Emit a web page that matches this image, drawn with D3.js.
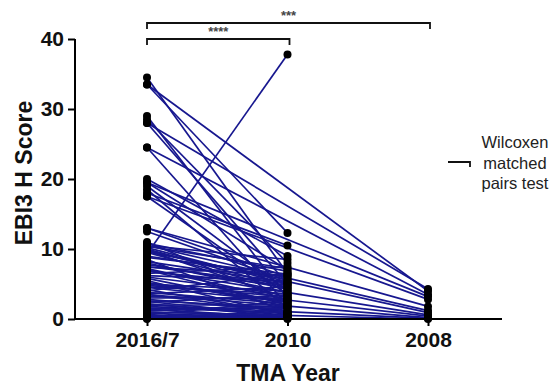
<!DOCTYPE html>
<html>
<head>
<meta charset="utf-8">
<script src="https://cdn.jsdelivr.net/npm/d3@7"></script>
<style>
  body { margin: 0; background: #fff; }
  text { font-family: "Liberation Sans", Arial, sans-serif; }
</style>
</head>
<body>
<div id="chart"></div>
<script>
const groups = ['2016/7', '2010', '2008'];
const yTicks = [0, 10, 20, 30, 40];

// paired samples 2016/7 -> 2010
const pre2010 = [34.5, 33.5, 29.0, 28.5, 28.0, 24.5, 20.0, 19.5, 19.0, 18.5, 18.0, 17.5,
  13.0, 12.5, 11.0, 10.8, 10.5, 10.4, 10.2, 10.0, 9.8, 9.6, 9.5, 9.3, 9.0, 8.8, 8.5, 8.2,
  8.0, 7.8, 7.5, 7.4, 7.2, 7.0, 6.8, 6.5, 6.2, 6.0, 5.8, 5.5, 5.2, 5.0, 4.8, 4.6, 4.5,
  4.2, 4.0, 3.8, 3.6, 3.5, 3.2, 3.0, 2.8, 2.6, 2.5, 2.4, 2.2, 2.0, 1.8, 1.6, 1.5, 1.4,
  1.2, 1.0, 0.8, 0.6, 0.5, 0.4, 0.3, 0.2, 0.1, 0.0];
const post2010 = [6.5, 12.3, 3.0, 8.0, 5.0, 2.0, 9.0, 7.0, 4.0, 1.5, 10.5, 3.5,
  6.0, 5.5, 2.5, 6.8, 8.5, 7.2, 5.0, 4.5, 3.0, 5.6, 4.2, 37.8, 6.0, 6.4, 1.0, 5.2,
  3.8, 4.4, 5.0, 6.2, 2.8, 2.0, 4.8, 7.5, 5.4, 3.5, 1.8, 0.5, 2.4, 4.0, 3.2, 3.6, 2.5,
  0.8, 6.5, 2.2, 4.6, 1.0, 2.8, 3.0, 1.2, 1.6, 0.5, 3.4, 0.3, 2.0, 0.8, 0.9, 1.5, 0.2,
  1.8, 0.5, 0.1, 2.6, 0.2, 0.6, 1.0, 0.4, 0.3, 0.0];

// paired samples 2016/7 -> 2008
const pre2008 = [33.5, 28.0, 24.5, 19.5, 17.5, 13.0, 10.5, 9.8, 7.0, 5.0, 3.5, 2.0, 1.0];
const post2008 = [4.0, 4.3, 3.5, 3.2, 2.8, 1.8, 1.2, 0.9, 0.6, 0.4, 0.2, 0.1, 0.0];

const width = 553, height = 385;
const svg = d3.select('#chart').append('svg')
  .attr('width', width)
  .attr('height', height);

const y = d3.scaleLinear().domain([0, 40]).range([319, 39]);
const x = d3.scalePoint().domain(groups).range([147, 428]);

const pairs = [];
pre2010.forEach((v, i) => pairs.push({ a: v, b: post2010[i], to: '2010' }));
pre2008.forEach((v, i) => pairs.push({ a: v, b: post2008[i], to: '2008' }));

// pair lines
svg.append('g')
  .selectAll('line')
  .data(pairs)
  .enter()
  .append('line')
  .attr('x1', x('2016/7'))
  .attr('y1', d => y(d.a))
  .attr('x2', d => x(d.to))
  .attr('y2', d => y(d.b))
  .attr('stroke', '#17178f')
  .attr('stroke-width', 1.7);

// dots
const dots = [];
pairs.forEach(d => {
  dots.push({ g: '2016/7', v: d.a });
  dots.push({ g: d.to, v: d.b });
});
svg.append('g')
  .selectAll('circle')
  .data(dots)
  .enter()
  .append('circle')
  .attr('cx', d => x(d.g))
  .attr('cy', d => y(d.v))
  .attr('r', 4)
  .attr('fill', '#000');

// y axis
const yAxis = svg.append('g')
  .attr('transform', 'translate(75,0)')
  .call(d3.axisLeft(y).tickValues(yTicks).tickSize(7).tickPadding(4));
yAxis.select('.domain').attr('stroke-width', 2).attr('d', `M0,${y(40)}V${y(0)}`);
yAxis.selectAll('.tick line').attr('stroke-width', 2);
yAxis.selectAll('.tick text')
  .attr('font-size', 21).attr('font-weight', 'bold').attr('fill', '#111')
  .attr('font-family', '"Liberation Sans", Arial, sans-serif');

// x axis
const xAxis = svg.append('g')
  .attr('transform', `translate(0,${y(0)})`)
  .call(d3.axisBottom(x).tickSize(7).tickPadding(6));
xAxis.select('.domain').attr('stroke-width', 2).attr('d', 'M74,0H502');
xAxis.selectAll('.tick line').attr('stroke-width', 2);
xAxis.selectAll('.tick text')
  .attr('font-size', 21).attr('font-weight', 'bold').attr('fill', '#111')
  .attr('font-family', '"Liberation Sans", Arial, sans-serif');

// axis titles
svg.append('text')
  .attr('transform', `translate(32,${y(20) - 6}) rotate(-90)`)
  .attr('text-anchor', 'middle')
  .attr('font-size', 23).attr('font-weight', 'bold').attr('fill', '#111')
  .text('EBI3 H Score');

svg.append('text')
  .attr('x', 288).attr('y', 381)
  .attr('text-anchor', 'middle')
  .attr('font-size', 23).attr('font-weight', 'bold').attr('fill', '#111')
  .text('TMA Year');

// significance brackets
const brackets = [
  { from: '2016/7', to: '2008', yy: 23, label: '***' },
  { from: '2016/7', to: '2010', yy: 39, label: '****' }
];
brackets.forEach(b => {
  const x0 = x(b.from), x1 = x(b.to) + 2;
  svg.append('path')
    .attr('d', `M${x0},${b.yy + 6}V${b.yy}H${x1}V${b.yy + 6}`)
    .attr('fill', 'none')
    .attr('stroke', '#111')
    .attr('stroke-width', 1.8);
  svg.append('text')
    .attr('x', (x0 + x1) / 2).attr('y', b.yy - 3)
    .attr('text-anchor', 'middle')
    .attr('font-size', 13).attr('font-weight', 'bold').attr('fill', '#444')
    .text(b.label);
});

// legend
svg.append('path')
  .attr('d', 'M448,162H470V167')
  .attr('fill', 'none')
  .attr('stroke', '#111')
  .attr('stroke-width', 1.8);
const legendLines = ['Wilcoxen', 'matched', 'pairs test'];
svg.append('g')
  .selectAll('text')
  .data(legendLines)
  .enter()
  .append('text')
  .attr('x', 515)
  .attr('y', (d, i) => 148 + i * 20.5)
  .attr('text-anchor', 'middle')
  .attr('font-size', 16.5).attr('fill', '#222')
  .text(d => d);
</script>
</body>
</html>
